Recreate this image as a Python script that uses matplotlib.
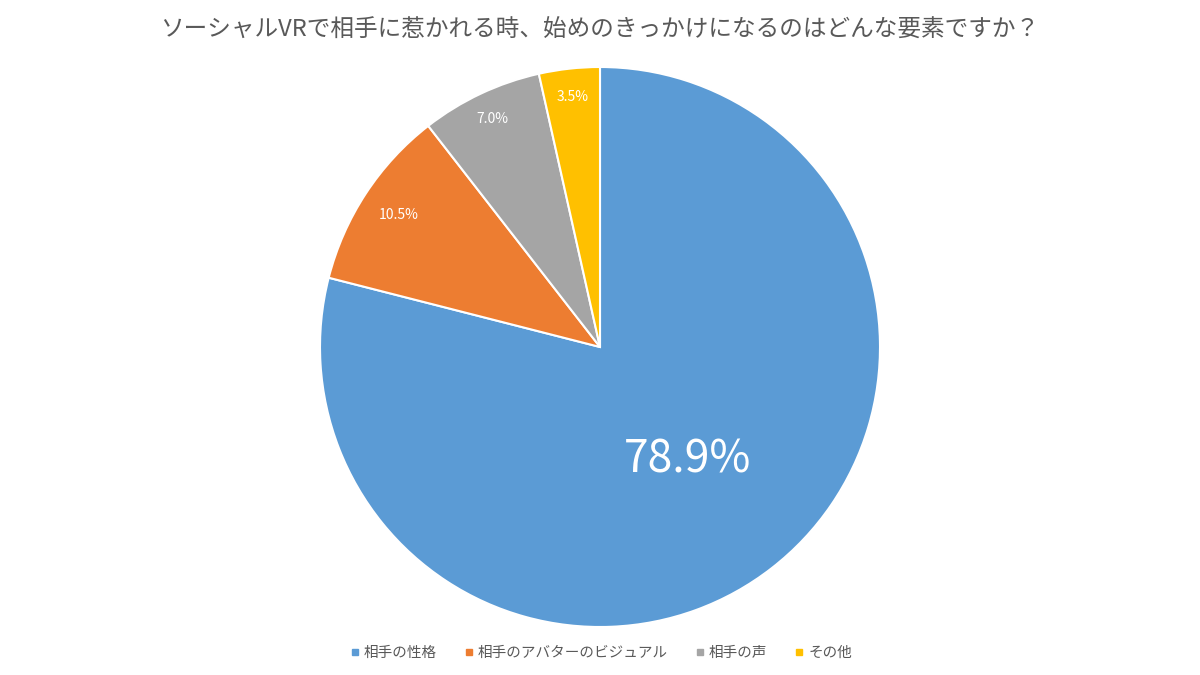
import matplotlib
matplotlib.use("Agg")
import matplotlib.pyplot as plt
from matplotlib.lines import Line2D
import numpy as np

plt.rcParams["font.family"] = ["Noto Sans CJK JP", "DejaVu Sans"]

categories = ["相手の性格", "相手のアバターのビジュアル", "相手の声", "その他"]
values = [78.9, 10.5, 7.0, 3.5]
colors = ["#5B9BD5", "#ED7D31", "#A5A5A5", "#FFC000"]
title = "ソーシャルVRで相手に惹かれる時、始めのきっかけになるのはどんな要素ですか？"

fig = plt.figure(figsize=(12, 6.75), dpi=100)
ax = fig.add_axes([320 / 1200, 48 / 675, 560 / 1200, 560 / 675])

wedges, _ = ax.pie(
    values,
    colors=colors,
    startangle=90,
    counterclock=False,
    wedgeprops={"edgecolor": "white", "linewidth": 1.5},
)
ax.set_xlim(-1, 1)
ax.set_ylim(-1, 1)
ax.set_aspect("equal")

# label distance and size per slice
dists = [0.51, 0.86, 0.9, 0.9]
sizes = [32, 10, 10, 10]
for w, v, d, s in zip(wedges, values, dists, sizes):
    ang = np.deg2rad((w.theta1 + w.theta2) / 2)
    ax.text(d * np.cos(ang), d * np.sin(ang), f"{v:.1f}%",
            ha="center", va="center", color="white", fontsize=s)

fig.text(0.5, 1 - 30 / 675, title, ha="center", va="center",
         fontsize=17, color="#595959")

handles = [Line2D([0], [0], marker="s", linestyle="none", markersize=5,
                  markerfacecolor=c, markeredgecolor=c) for c in colors]
fig.legend(handles, categories, loc="center", bbox_to_anchor=(0.5, 1 - 653 / 675),
           ncol=4, frameon=False, fontsize=10.5, labelcolor="#595959",
           handletextpad=0.1, columnspacing=1.7, handlelength=1.0)

fig.savefig("out.png", dpi=100, facecolor="white")
